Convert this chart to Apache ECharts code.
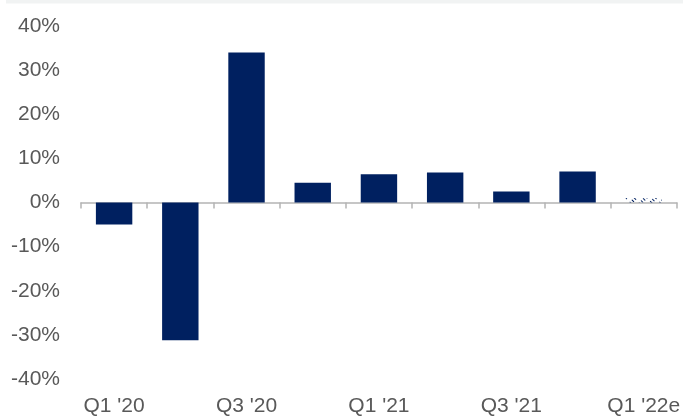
<!DOCTYPE html>
<html>
<head>
<meta charset="utf-8">
<script src="https://cdn.jsdelivr.net/npm/echarts@6/dist/echarts.min.js"></script>
<style>
html,body{margin:0;padding:0;background:#fff;}
#chart{width:683px;height:417px;}
</style>
</head>
<body>
<div id="chart"></div>
<script>
const categories = ["Q1 '20","Q2 '20","Q3 '20","Q4 '20","Q1 '21","Q2 '21","Q3 '21","Q4 '21","Q1 '22e"];
const actualValues = [-5.0, -31.2, 34.0, 4.5, 6.4, 6.8, 2.5, 7.0, null];
const estimateValues = [null, null, null, null, null, null, null, null, 1.0];
const yTicks = { min: -40, max: 40, interval: 10 };

const navy = '#002060';
const chart = echarts.init(document.getElementById('chart'), null, {renderer: 'canvas'});
chart.setOption({
  animation: false,
  backgroundColor: '#fff',
  graphic: [{
    type: 'rect', left: 6, top: 0,
    shape: {width: 677, height: 3.5},
    style: {fill: '#f1f3f3'}
  }],
  grid: {left: 81, right: 2, top: 26, bottom: 37, containLabel: false},
  xAxis: [{
    type: 'category', data: categories, boundaryGap: true,
    axisLine: {show: true, onZero: true, lineStyle: {color: '#b4b4b4', width: 1.5}},
    axisTick: {show: true, length: 6, interval: 0, lineStyle: {color: '#b4b4b4', width: 1.5}},
    axisLabel: {show: false}
  }, {
    type: 'category', data: categories, boundaryGap: true, position: 'bottom',
    axisLine: {show: false, onZero: false}, axisTick: {show: false},
    axisLabel: {show: true, interval: 1, margin: 17, color: '#595959',
      fontFamily: 'Liberation Sans, Arial, sans-serif', fontSize: 21}
  }],
  yAxis: {
    type: 'value', min: yTicks.min, max: yTicks.max, interval: yTicks.interval,
    axisLine: {show: false}, axisTick: {show: false}, splitLine: {show: false},
    axisLabel: {formatter: '{value}%', margin: 21, color: '#595959',
      fontFamily: 'Liberation Sans, Arial, sans-serif', fontSize: 21}
  },
  series: [{
    type: 'bar', data: actualValues, barWidth: '55%', barGap: '-100%',
    itemStyle: {color: navy}
  }, {
    type: 'bar', data: estimateValues, barWidth: '55%', barGap: '-100%',
    itemStyle: {color: 'rgba(255,255,255,0)',
      decal: {symbol: 'rect', color: navy, backgroundColor: 'rgba(255,255,255,0)',
        dashArrayX: [[3, 4]], dashArrayY: [1, 2], rotation: Math.PI / 4, symbolSize: 1}}
  }]
});
</script>
</body>
</html>
